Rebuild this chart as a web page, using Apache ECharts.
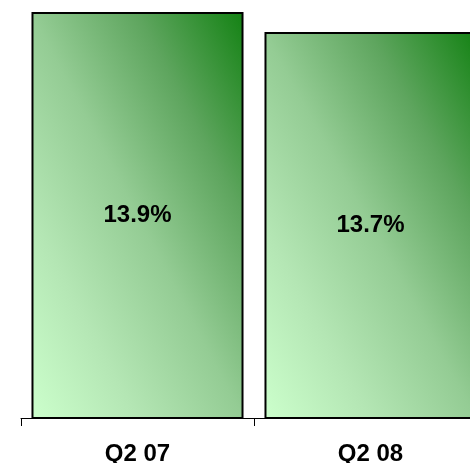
<!DOCTYPE html>
<html>
<head>
<meta charset="utf-8">
<style>
  html, body { margin: 0; padding: 0; background: #ffffff; overflow: hidden; }
  #chart { width: 470px; height: 463px; }
</style>
<script src="https://cdn.jsdelivr.net/npm/echarts@6/dist/echarts.min.js"></script>
</head>
<body>
<div id="chart"></div>
<script>
// Quarterly ratio, two periods
const categories = ['Q2 07', 'Q2 08'];
const ratioValues = [13.9, 13.7];
const valueSuffix = '%';

const axisMin = 9.84;
const axisMax = 13.9;
const gapPct = 9;

// Colour ramp from the lower-left corner (pale) to the upper-right corner (deep green)
const fillStops = [
  { offset: 0, color: '#ccffcc' },
  { offset: 0.25, color: '#b4e6b4' },
  { offset: 0.5, color: '#94cc94' },
  { offset: 0.75, color: '#5ea55e' },
  { offset: 1, color: '#148214' }
];

const fontFamily = 'Liberation Sans, Arial, sans-serif';

const chart = echarts.init(document.getElementById('chart'), null, { renderer: 'canvas' });

const baseOption = {
  animation: false,
  backgroundColor: '#ffffff',
  // The second category runs past the right edge, so the grid is allowed to overflow
  grid: { left: 21, top: 12, width: 466, bottom: 45, containLabel: false, outerBoundsMode: 'none' },
  xAxis: {
    type: 'category',
    data: categories,
    boundaryGap: true,
    axisLine: { lineStyle: { color: '#000000', width: 1 } },
    axisTick: { show: true, length: 8, lineStyle: { color: '#000000', width: 1 } },
    axisLabel: {
      margin: 24,
      lineHeight: 24,
      color: '#000000',
      fontFamily: fontFamily,
      fontWeight: 'bold',
      fontSize: 24
    }
  },
  yAxis: {
    type: 'value',
    min: axisMin,
    max: axisMax,
    show: false,
    splitLine: { show: false }
  },
  series: [{
    type: 'bar',
    data: ratioValues,
    barCategoryGap: gapPct + '%',
    itemStyle: { color: '#94cc94', borderColor: '#000000', borderWidth: 2 },
    label: {
      show: true,
      position: 'inside',
      formatter: p => p.value.toFixed(1) + valueSuffix,
      color: '#000000',
      fontFamily: fontFamily,
      fontWeight: 'bold',
      fontSize: 24
    }
  }]
};

chart.setOption(baseOption);

// Corner-to-corner gradient that scales with each bar's shape:
// the colour is constant along the top-left / bottom-right diagonal.
function diagonalFill(w, h) {
  const d = w * w + h * h;
  const x2 = 2 * h * h / d;
  const y2 = 1 - 2 * w * w / d;
  return new echarts.graphic.LinearGradient(0, 1, x2, y2, fillStops);
}

const band = Math.abs(chart.convertToPixel({ xAxisIndex: 0 }, 1) - chart.convertToPixel({ xAxisIndex: 0 }, 0));
const barW = band * (1 - gapPct / 100);
const baseY = chart.convertToPixel({ yAxisIndex: 0 }, axisMin);

chart.setOption({
  series: [{
    data: ratioValues.map(v => {
      const barH = Math.abs(baseY - chart.convertToPixel({ yAxisIndex: 0 }, v));
      return { value: v, itemStyle: { color: diagonalFill(barW, barH) } };
    })
  }]
});
</script>
</body>
</html>
